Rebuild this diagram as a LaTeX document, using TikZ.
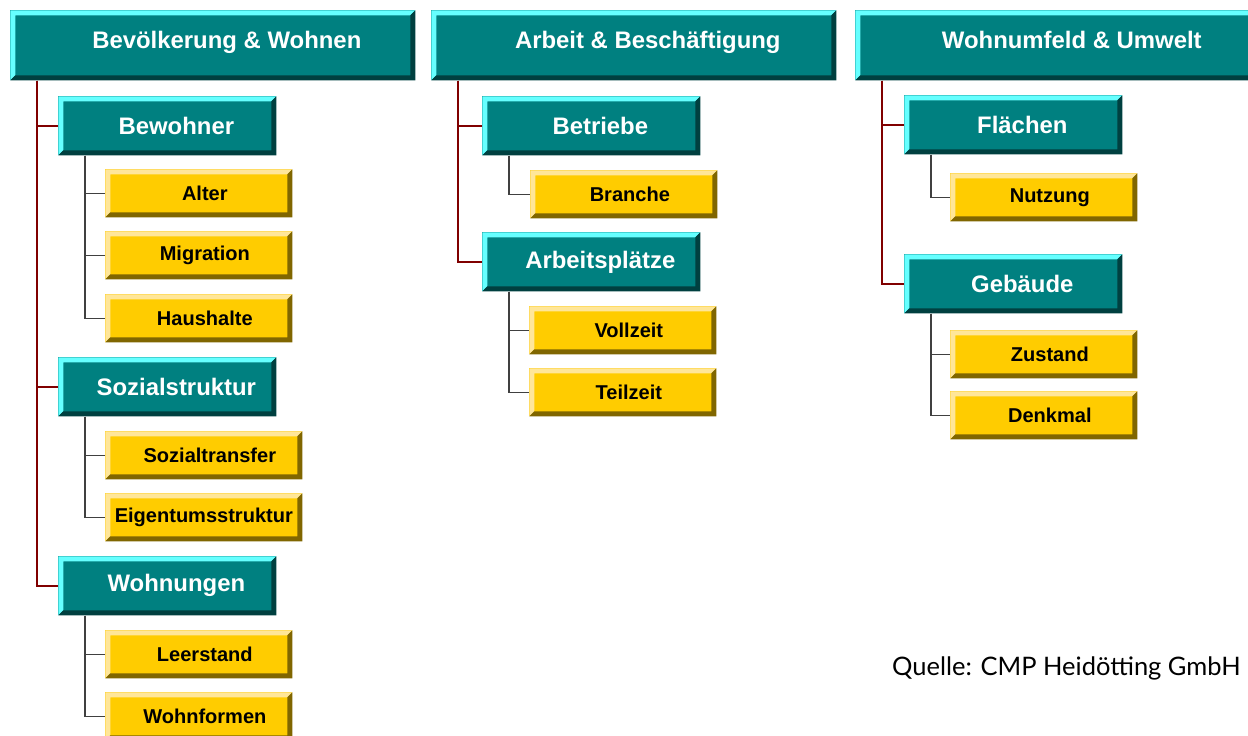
\documentclass[tikz,border=0pt]{standalone}
\usepackage{fontspec}
\setmainfont{Liberation Sans}
\newfontfamily\quellefont{Lato}
\usetikzlibrary{positioning}

\definecolor{teal}{HTML}{008080}
\definecolor{tealhi}{HTML}{66FFFF}
\definecolor{teallo}{HTML}{004040}
\definecolor{gold}{HTML}{FFCC00}
\definecolor{goldhi}{HTML}{FFE699}
\definecolor{goldlo}{HTML}{806600}
\definecolor{trunkred}{HTML}{800000}
\definecolor{twiggray}{HTML}{404040}

\tikzset{
  bevel/.style 2 args={path picture={
      \fill[#1] (path picture bounding box.south west) -- (path picture bounding box.north west)
        -- (path picture bounding box.north east) -- ([shift={(-0.1cm,-0.1cm)}]path picture bounding box.north east)
        -- ([shift={(0.1cm,-0.1cm)}]path picture bounding box.north west) -- ([shift={(0.1cm,0.1cm)}]path picture bounding box.south west) -- cycle;
      \fill[#2] (path picture bounding box.south west) -- (path picture bounding box.south east)
        -- (path picture bounding box.north east) -- ([shift={(-0.1cm,-0.1cm)}]path picture bounding box.north east)
        -- ([shift={(-0.1cm,0.1cm)}]path picture bounding box.south east) -- ([shift={(0.1cm,0.1cm)}]path picture bounding box.south west) -- cycle;
    }},
  headbox/.style={rectangle,fill=teal,bevel={tealhi}{teallo},text=white,anchor=north west,
    minimum width=8.1cm,minimum height=1.4cm,font=\fontsize{13.6}{16}\selectfont\bfseries,
    text height=0.75em,text depth=0.4em,execute at begin node={\hspace*{0.56cm}}},
  groupbox/.style={rectangle,fill=teal,bevel={tealhi}{teallo},text=white,anchor=north west,
    minimum width=4.36cm,minimum height=1.18cm,font=\fontsize{13.6}{16}\selectfont\bfseries,
    execute at begin node={\hspace*{0.36cm}}},
  itembase/.style={rectangle,fill=gold,bevel={goldhi}{goldlo},text=black,anchor=north west,
    minimum width=3.74cm,minimum height=0.96cm,font=\fontsize{11.4}{14}\selectfont\bfseries},
  itembox/.style={itembase,execute at begin node={\hspace*{0.24cm}}},
  trunk/.style={draw=trunkred,line width=1.3pt},
  twig/.style={draw=twiggray,line width=0.8pt}
}

\begin{document}
\begin{tikzpicture}[x=0.02cm,y=-0.02cm]
    \useasboundingbox (0,0) rectangle (1248,735);
    %% Headers
    \node[headbox] (hbev) at (10,10) {Bevölkerung \& Wohnen};
    \node[headbox] (harb) at (431,10) {Arbeit \& Beschäftigung};
    \node[headbox] (hwoh) at (855,10) {Wohnumfeld \& Umwelt};
    %% Bevoelkerung & Wohnen
    \node[groupbox] (bew) at (58,96) {Bewohner};
    \node[itembox] (alt) at (105,169) {Alter};
    \node[itembox] (mig) at (105,231) {Migration};
    \node[itembox] (hh) at (105,294) {Haushalte};
    \node[groupbox] (soz) at (58,357) {Sozialstruktur};
    \node[itembox,minimum width=3.94cm] (stf) at (105,431) {Sozialtransfer};
    \node[itembase,minimum width=3.94cm,inner xsep=0pt] (eig) at (105,493) {Eigentumsstruktur};
    \node[groupbox] (whg) at (58,556) {Wohnungen};
    \node[itembox] (lee) at (105,630) {Leerstand};
    \node[itembox] (wf) at (105,692) {Wohnformen};
    %% Arbeit & Beschaeftigung
    \node[groupbox] (bet) at (482,96) {Betriebe};
    \node[itembox] (brn) at (530,170) {Branche};
    \node[groupbox] (apl) at (482,232) {Arbeitsplätze};
    \node[itembox] (vz) at (529,306) {Vollzeit};
    \node[itembox] (tz) at (529,368) {Teilzeit};
    %% Wohnumfeld & Umwelt
    \node[groupbox] (fla) at (904,95) {Flächen};
    \node[itembox] (nutz) at (950,173) {Nutzung};
    \node[groupbox] (geb) at (904,254) {Gebäude};
    \node[itembox] (zus) at (950,330) {Zustand};
    \node[itembox] (dm) at (950,391) {Denkmal};
    %% Trunks
    \foreach \h/\g in {hbev/bew,hbev/soz,hbev/whg,harb/bet,harb/apl,hwoh/fla,hwoh/geb}
        \draw[trunk] ([xshift=0.54cm]\h.south west) |- (\g.west);
    %% Twigs
    \foreach \g/\i in {bew/alt,bew/mig,bew/hh,soz/stf,soz/eig,whg/lee,whg/wf,bet/brn,apl/vz,apl/tz,fla/nutz,geb/zus,geb/dm}
        \draw[twig] ([xshift=0.54cm]\g.south west) |- (\i.west);
    %% Source
    \node[anchor=west,font=\quellefont\fontsize{14.5}{17}\selectfont] (quelle) at (886,668) {Quelle: CMP Heidötting GmbH};
\end{tikzpicture}
\end{document}
